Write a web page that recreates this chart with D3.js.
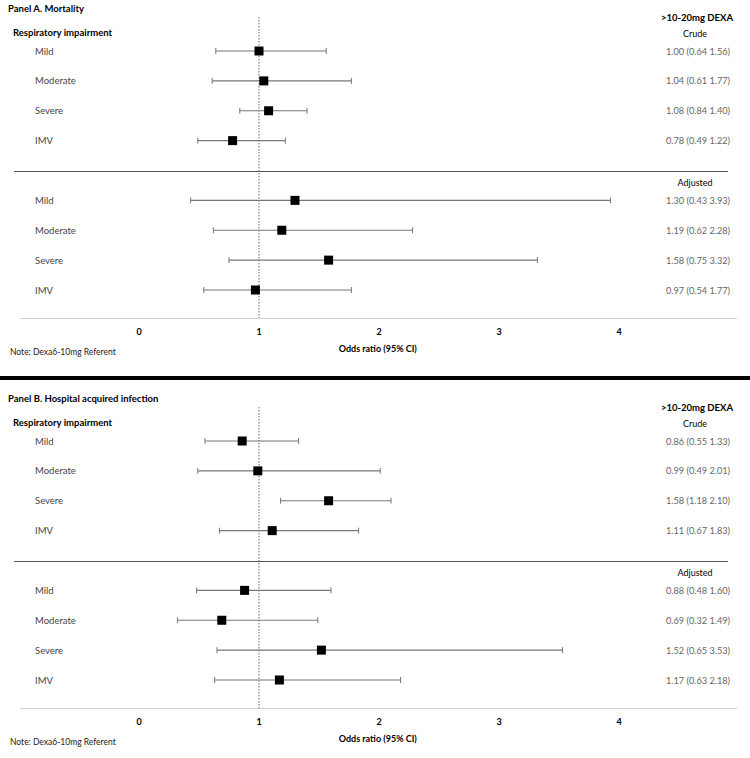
<!DOCTYPE html>
<html><head><meta charset="utf-8">
<script src="https://cdn.jsdelivr.net/npm/d3@7"></script>
<style>
body{margin:0;background:#fff;}
text{font-family:Lato,"Open Sans",sans-serif;}
</style></head>
<body>
<svg id="c" width="750" height="758"></svg>
<script>
const categories = ["Mild","Moderate","Severe","IMV"];
const groups = ["Crude","Adjusted"];
const panels = ["Panel A. Mortality","Panel B. Hospital acquired infection"];
const xTicks = [0,1,2,3,4];
// [OR, lower, upper]
const mortalityCrude    = [[1.00,0.64,1.56],[1.04,0.61,1.77],[1.08,0.84,1.40],[0.78,0.49,1.22]];
const mortalityAdjusted = [[1.30,0.43,3.93],[1.19,0.62,2.28],[1.58,0.75,3.32],[0.97,0.54,1.77]];
const infectionCrude    = [[0.86,0.55,1.33],[0.99,0.49,2.01],[1.58,1.18,2.10],[1.11,0.67,1.83]];
const infectionAdjusted = [[0.88,0.48,1.60],[0.69,0.32,1.49],[1.52,0.65,3.53],[1.17,0.63,2.18]];

const panelData = [[mortalityCrude, mortalityAdjusted],[infectionCrude, infectionAdjusted]];

const svg = d3.select("#c");
const x = d3.scaleLinear().domain([0,4]).range([139,619]);
const slot = d3.scaleLinear().domain([0,8]).range([51,290]);
const fmt = d3.format(".2f");

panelData.forEach((pd, pi) => {
  const oy = pi === 0 ? 0 : 390;
  const g = svg.append("g").attr("transform", `translate(0,${oy})`);
  g.append("text").attr("x",8).attr("y",11.5).attr("font-size",9.5).attr("font-weight","bold").attr("fill","#000").text(panels[pi]);
  g.append("text").attr("x",13).attr("y",35.5).attr("font-size",9.5).attr("font-weight","bold").attr("fill","#000").text("Respiratory impairment");
  g.append("text").attr("x",697).attr("y",20.5).attr("font-size",9.5).attr("font-weight","bold").attr("text-anchor","middle").attr("fill","#000").text(">10-20mg DEXA");
  g.append("line").attr("x1",x(1)).attr("x2",x(1)).attr("y1",17).attr("y2",318)
    .attr("stroke","#666").attr("stroke-width",1).attr("stroke-dasharray","1.5,1.5");
  g.append("line").attr("x1",14).attr("x2",728).attr("y1",171.5).attr("y2",171.5).attr("stroke","#555").attr("stroke-width",1);
  g.append("line").attr("x1",20).attr("x2",737).attr("y1",318.5).attr("y2",318.5).attr("stroke","#d0d0d0").attr("stroke-width",1.2);
  g.selectAll("text.tick").data(xTicks).enter().append("text").attr("class","tick")
    .attr("x",d=>x(d)).attr("y",335).attr("text-anchor","middle").attr("font-size",9).attr("font-weight","bold").attr("fill","#000").text(d=>d);
  g.append("text").attr("x",x(1.99)).attr("y",352).attr("text-anchor","middle").attr("font-size",9).attr("font-weight","bold").attr("fill","#000").text("Odds ratio (95% CI)");
  g.append("text").attr("x",10).attr("y",355).attr("font-size",8.5).attr("fill","#222").text("Note: Dexa6-10mg Referent");

  pd.forEach((series, gi) => {
    const hy = gi === 0 ? 36.5 : 186;
    g.append("text").attr("x",695).attr("y",hy).attr("text-anchor","middle").attr("font-size",9).attr("fill","#000").text(groups[gi]);
    series.forEach((d, i) => {
      const y = slot(gi*5 + i);
      g.append("text").attr("x",35).attr("y",y+3.5).attr("font-size",9.5).attr("fill","#444").text(categories[i]);
      g.append("line").attr("x1",x(d[1])).attr("x2",x(d[2])).attr("y1",y).attr("y2",y).attr("stroke","#777").attr("stroke-width",1.2);
      [d[1],d[2]].forEach(v => g.append("line").attr("x1",x(v)).attr("x2",x(v)).attr("y1",y-3).attr("y2",y+3).attr("stroke","#777").attr("stroke-width",1));
      g.append("rect").attr("x",x(d[0])-4.5).attr("y",y-4.5).attr("width",9).attr("height",9).attr("fill","#000");
      g.append("text").attr("x",698).attr("y",y+3.5).attr("text-anchor","middle").attr("font-size",9.2).attr("fill","#666")
        .text(`${fmt(d[0])} (${fmt(d[1])} ${fmt(d[2])})`);
    });
  });
});
svg.append("rect").attr("x",0).attr("y",376).attr("width",750).attr("height",4).attr("fill","#000");
</script>
</body></html>
